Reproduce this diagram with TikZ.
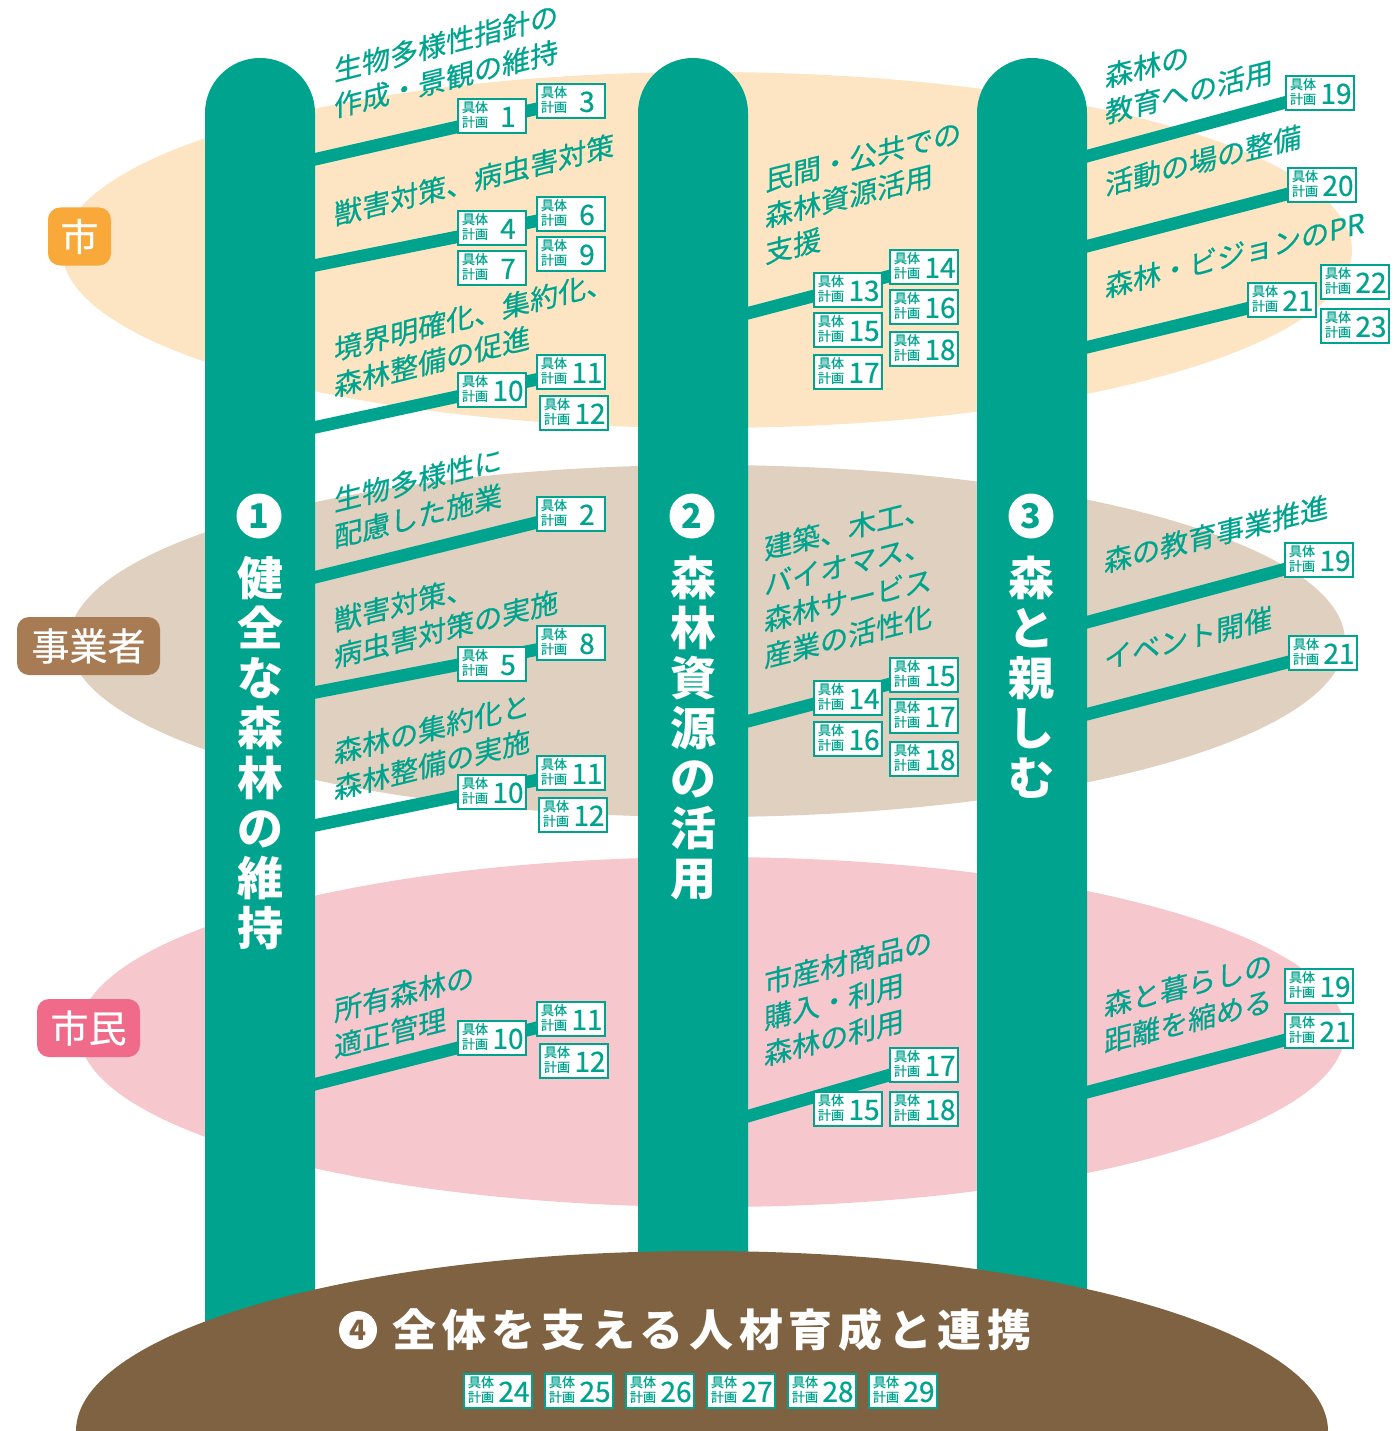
\documentclass[tikz,border=0pt]{standalone}
\usepackage{fontspec}
\newfontfamily\jp{Noto Sans CJK JP}
\newfontfamily\jpm{Noto Sans CJK JP}[FakeBold=0.6]
\usetikzlibrary{backgrounds}

\definecolor{forest}{HTML}{00A48E}
\definecolor{cityband}{HTML}{FDE5C4}
\definecolor{bizband}{HTML}{E0D0BF}
\definecolor{folkband}{HTML}{F7C7CE}
\definecolor{citytag}{HTML}{F9A83A}
\definecolor{biztag}{HTML}{A77C55}
\definecolor{folktag}{HTML}{F06A89}
\definecolor{soil}{HTML}{7F6241}

\newcommand{\gplan}[1]{\makebox[32pt][c]{\fontsize{13}{13}\selectfont\begin{tabular}[b]{@{}l@{}}具体\\計画\end{tabular}}\makebox[34pt][c]{\fontsize{28}{28}\selectfont #1}}

\tikzset{
  plan/.style={draw=forest, line width=1.2pt, fill=white, text=forest, minimum width=68pt, minimum height=34pt, inner sep=0pt, font=\jpm},
  branch/.style={draw=forest, line width=12.5pt},
  item/.style={text=forest, anchor=south west, align=left, inner sep=0pt, yslant=0.25, font=\jpm\fontsize{28}{36}\selectfont},
  pillar/.style={anchor=north, text=white, align=center, inner sep=0pt, font=\jp\bfseries\fontsize{46}{50}\selectfont},
  numdot/.style={circle, fill=white, text=forest, inner sep=0pt, minimum size=45pt, font=\jp\bfseries\fontsize{34}{34}\selectfont},
  who/.style={rounded corners=12pt, text=white, inner sep=0pt, minimum height=58pt, font=\jpm\fontsize{38}{38}\selectfont}
}

\begin{document}
\begin{tikzpicture}[x=1pt,y=-1pt]
\useasboundingbox (0,0) rectangle (1396,1431);

% who does it
\node[who, fill=citytag, minimum width=63pt] (city) at (79.5,236.5) {市};
\node[who, fill=biztag, minimum width=143pt] (biz) at (88.5,646) {事業者};
\node[who, fill=folktag, minimum width=103pt] (folk) at (88.5,1028) {市民};

% pillars
\node[numdot] (n1) at (259,516) {1};
\node[numdot] (n2) at (692,516) {2};
\node[numdot] (n3) at (1031,516) {3};
\node[pillar] (p1) at (260,556) {健\\全\\な\\森\\林\\の\\維\\持};
\node[pillar] (p2) at (693,556) {森\\林\\資\\源\\の\\活\\用};
\node[pillar] (p3) at (1031,556) {森\\と\\親\\し\\む};

% pillar 1
\node[item] (tA) at (334,120) {生物多様性指針の\\作成・景観の維持};
\node[plan] (a1) at (492,116) {\gplan{1}};
\node[plan] (a3) at (571,101) {\gplan{3}};
\node[item] (tB) at (334,228) {獣害対策、病虫害対策};
\node[plan] (b4) at (492,228) {\gplan{4}};
\node[plan] (b6) at (571,214) {\gplan{6}};
\node[plan] (b7) at (492,268) {\gplan{7}};
\node[plan] (b9) at (571,254) {\gplan{9}};
\node[item] (tC) at (334,399) {境界明確化、集約化、\\森林整備の促進};
\node[plan] (c10) at (492,390) {\gplan{10}};
\node[plan] (c11) at (571,372) {\gplan{11}};
\node[plan] (c12) at (574,413) {\gplan{12}};
\node[item] (tD) at (334,550) {生物多様性に\\配慮した施業};
\node[plan] (d2) at (571,514) {\gplan{2}};
\node[item] (tE) at (334,670) {獣害対策、\\病虫害対策の実施};
\node[plan] (e5) at (492,664) {\gplan{5}};
\node[plan] (e8) at (571,643) {\gplan{8}};
\node[item] (tF) at (334,802) {森林の集約化と\\森林整備の実施};
\node[plan] (f10) at (492,792) {\gplan{10}};
\node[plan] (f11) at (571,773) {\gplan{11}};
\node[plan] (f12) at (573,815) {\gplan{12}};
\node[item] (tG) at (334,1060) {所有森林の\\適正管理};
\node[plan] (g10) at (492,1038) {\gplan{10}};
\node[plan] (g11) at (571,1019) {\gplan{11}};
\node[plan] (g12) at (574,1061) {\gplan{12}};

% pillar 2
\node[item] (tH) at (765,266) {民間・公共での\\森林資源活用\\支援};
\node[plan] (h13) at (848,290) {\gplan{13}};
\node[plan] (h14) at (924,267) {\gplan{14}};
\node[plan] (h15) at (848,330) {\gplan{15}};
\node[plan] (h16) at (924,307) {\gplan{16}};
\node[plan] (h17) at (848,372) {\gplan{17}};
\node[plan] (h18) at (924,349) {\gplan{18}};
\node[item] (tI) at (764,670) {建築、木工、\\バイオマス、\\森林サービス\\産業の活性化};
\node[plan] (i14) at (848,698) {\gplan{14}};
\node[plan] (i15) at (924,675) {\gplan{15}};
\node[plan] (i16) at (848,739) {\gplan{16}};
\node[plan] (i17) at (924,716) {\gplan{17}};
\node[plan] (i18) at (924,759) {\gplan{18}};
\node[item] (tJ) at (764,1068) {市産材商品の\\購入・利用\\森林の利用};
\node[plan] (j15) at (848,1109) {\gplan{15}};
\node[plan] (j17) at (924,1065) {\gplan{17}};
\node[plan] (j18) at (924,1109) {\gplan{18}};

% pillar 3
\node[item] (tK) at (1105,126) {森林の\\教育への活用};
\node[plan] (k19) at (1320,93) {\gplan{19}};
\node[item] (tL) at (1105,198) {活動の場の整備};
\node[plan] (l20) at (1322,185) {\gplan{20}};
\node[item] (tM) at (1105,300) {森林・ビジョンのPR};
\node[plan] (m21) at (1282,300) {\gplan{21}};
\node[plan] (m22) at (1355,282) {\gplan{22}};
\node[plan] (m23) at (1355,326) {\gplan{23}};
\node[item] (tN) at (1104,575) {森の教育事業推進};
\node[plan] (n19) at (1319,560) {\gplan{19}};
\node[item] (tO) at (1104,672) {イベント開催};
\node[plan] (o21) at (1323,653) {\gplan{21}};
\node[item] (tP) at (1104,1055) {森と暮らしの\\距離を縮める};
\node[plan] (p19) at (1319,986) {\gplan{19}};
\node[plan] (p21) at (1319,1031) {\gplan{21}};

\begin{pgfonlayer}{background}
  \fill[cityband] (707,250) ellipse [x radius=645pt, y radius=178pt];
  \fill[bizband] (707,641) ellipse [x radius=638pt, y radius=176pt];
  \fill[folkband] (712,1032) ellipse [x radius=633pt, y radius=175pt];
  \foreach \x in {205,638,977}
    \fill[forest] (\x,1360) [rounded corners=55pt] -- (\x,58) -- (\x+110,58) [sharp corners] -- (\x+110,1360) -- cycle;
  % branches
  \coordinate (sA) at (312,160);
  \coordinate (sB) at (312,266);
  \coordinate (sC) at (312,428);
  \coordinate (sD) at (312,578);
  \coordinate (sE) at (312,693);
  \coordinate (sF) at (312,826);
  \coordinate (sG) at (312,1085);
  \coordinate (sH) at (745,314);
  \coordinate (sI) at (745,722);
  \coordinate (sJ) at (745,1117);
  \coordinate (sK) at (1084,157);
  \coordinate (sL) at (1084,247);
  \coordinate (sM) at (1084,348);
  \coordinate (sN) at (1084,623);
  \coordinate (sO) at (1084,715);
  \coordinate (sP) at (1084,1093);
  \draw[branch] (sA) -- (a3.center);
  \draw[branch] (sB) -- (b6.center);
  \draw[branch] (sC) -- (c11.center);
  \draw[branch] (sD) -- (d2.center);
  \draw[branch] (sE) -- (e8.center);
  \draw[branch] (sF) -- (f11.center);
  \draw[branch] (sG) -- (g11.center);
  \draw[branch] (sH) -- (h14.center);
  \draw[branch] (sI) -- (i15.center);
  \draw[branch] (sJ) -- (j17.center);
  \draw[branch] (sK) -- (k19.center);
  \draw[branch] (sL) -- (l20.center);
  \draw[branch] (sM) -- (m21.center);
  \draw[branch] (sN) -- (n19.center);
  \draw[branch] (sO) -- (o21.center);
  \draw[branch] (sP) -- (p21.center);
\end{pgfonlayer}

% ground
\begin{scope}
  \clip (0,0) rectangle (1396,1431);
  \fill[soil] (702,1431) ellipse [x radius=626pt, y radius=180pt];
\end{scope}
\node[numdot, text=soil, minimum size=38pt, font=\jp\bfseries\fontsize{28}{28}\selectfont] (n4) at (358,1330) {4};
\node[text=white, inner sep=0pt, font=\jp\bfseries\fontsize{44}{44}\selectfont\addfontfeature{LetterSpace=13}] (base) at (712,1330) {全体を支える人材育成と連携};
\foreach \n [count=\i] in {24,...,29}
  \node[plan] (z\n) at ({417+81*\i},1391) {\gplan{\n}};

\end{tikzpicture}
\end{document}
